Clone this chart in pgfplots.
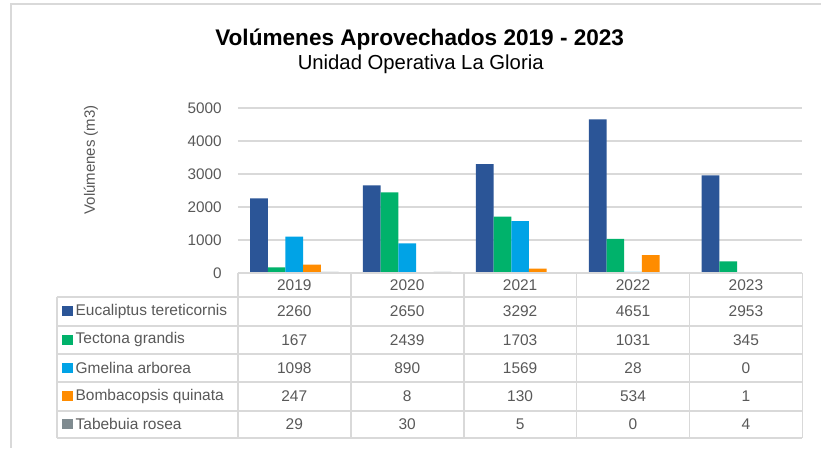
\documentclass[border=0pt]{standalone}
\usepackage{pgfplots}
\pgfplotsset{compat=1.18}
\usepackage{fontspec}
\setmainfont{Liberation Sans}
\definecolor{cEuc}{HTML}{2B5597}
\definecolor{cTec}{HTML}{00B26B}
\definecolor{cGme}{HTML}{00A3E6}
\definecolor{cBom}{HTML}{FF8C00}
\definecolor{cTab}{HTML}{7F8B90}
\definecolor{txt}{HTML}{595959}
\definecolor{grd}{HTML}{D9D9D9}
\begin{document}
\begin{tikzpicture}[x=1pt,y=1pt]
\path[fill=white] (0,0) rectangle (822,448);
\draw[grd, line width=1.2pt] (11,0) -- (11,444) -- (822,444);
\node[font=\fontsize{22.6}{24}\selectfont\bfseries] at (420,408) {Volúmenes Aprovechados 2019 - 2023};
\node[font=\fontsize{20.3}{22}\selectfont] at (421,384) {Unidad Operativa La Gloria};
\node[rotate=90, text=txt, font=\fontsize{15}{16}\selectfont] at (91,288) {Volúmenes (m3)};
\begin{axis}[
  at={(238pt,175pt)}, anchor=south west, scale only axis,
  width=565pt, height=165pt,
  xmin=-0.5, xmax=4.5, ymin=0, ymax=5000,
  ybar=0pt, bar width=17.7pt,
  axis line style={draw=none},
  xtick=\empty, ytick={0,1000,...,5000},
  major tick length=0pt,
  ymajorgrids, grid style={grd, line width=1.5pt},
  /pgf/number format/assume math mode=true,
  /pgf/number format/1000 sep={},
  yticklabel style={font=\fontsize{15.3}{16}\selectfont, text=txt, inner sep=0pt, anchor=east, xshift=-16pt},
  every axis plot/.append style={draw=none},
  clip=false,
]
\addplot[fill=cEuc] coordinates {(0,2260) (1,2650) (2,3292) (3,4651) (4,2953)};
\addplot[fill=cTec] coordinates {(0,167) (1,2439) (2,1703) (3,1031) (4,345)};
\addplot[fill=cGme] coordinates {(0,1098) (1,890) (2,1569) (3,28) (4,0)};
\addplot[fill=cBom] coordinates {(0,247) (1,8) (2,130) (3,534) (4,1)};
\addplot[fill=cTab] coordinates {(0,29) (1,30) (2,5) (3,0) (4,4)};
\end{axis}
% data table
\draw[grd, line width=1.8pt] (238,175) -- (803,175);
\foreach \yy in {151,122,94,66,37,10} \draw[grd, line width=1.8pt] (57,\yy) -- (803,\yy);
\foreach \xx in {238,351,464,577,690,803} \draw[grd, line width=1.8pt] (\xx,175) -- (\xx,10);
\draw[grd, line width=1.8pt] (57,151) -- (57,10);
\begin{scope}[every node/.style={text=txt, font=\fontsize{15.5}{16}\selectfont}]
\foreach \lab [count=\i from 0] in {2019,2020,2021,2022,2023}
  \node at (294.5+113*\i,163) {\lab};
\foreach \nm/\col/\yy in {Eucaliptus tereticornis/cEuc/136.5, Tectona grandis/cTec/108, Gmelina arborea/cGme/80, Bombacopsis quinata/cBom/51.5, Tabebuia rosea/cTab/23.5}{
  \fill[\col] (62,\yy-5) rectangle (73,\yy+5);
  \node[anchor=west, inner sep=0pt] at (75.5,\yy) {\nm};
}
\foreach \a/\b/\c/\d/\e/\yy in {2260/2650/3292/4651/2953/136.5, 167/2439/1703/1031/345/108, 1098/890/1569/28/0/80, 247/8/130/534/1/51.5, 29/30/5/0/4/23.5}{
  \node at (294.5,\yy) {\a};
  \node at (407.5,\yy) {\b};
  \node at (520.5,\yy) {\c};
  \node at (633.5,\yy) {\d};
  \node at (746.5,\yy) {\e};
}
\end{scope}
\end{tikzpicture}
\end{document}
